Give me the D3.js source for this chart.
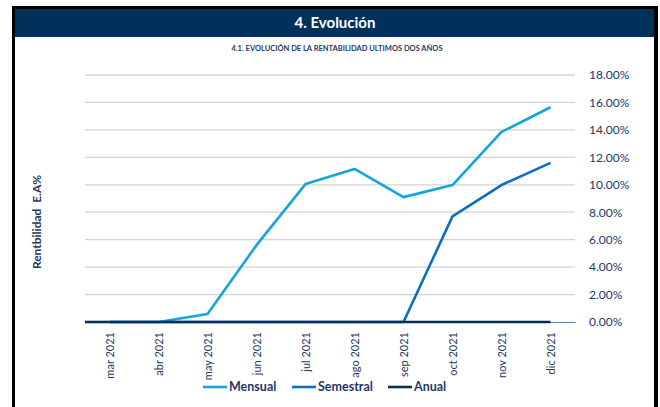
<!DOCTYPE html>
<html>
<head>
<meta charset="utf-8">
<script src="https://cdn.jsdelivr.net/npm/d3@7"></script>
<style>
  body { margin: 0; background: #fff; }
  svg { display: block; font-family: Lato, "Open Sans", sans-serif; }
</style>
</head>
<body>
<svg id="chart" width="660" height="407"></svg>
<script>
// months on the x axis
var meses = ["mar 2021","abr 2021","may 2021","jun 2021","jul 2021","ago 2021","sep 2021","oct 2021","nov 2021","dic 2021"]
// rentabilidad E.A. in %
var mensual = [0, 0, 0.58, 5.6, 10.05, 11.15, 9.1, 9.98, 13.85, 15.65]
var semestral = [0, 0, 0, 0, 0, 0, 0, 7.7, 9.98, 11.6]
var anual = [0, 0, 0, 0, 0, 0, 0, 0, 0, 0]
var yTicks = [0, 2, 4, 6, 8, 10, 12, 14, 16, 18]

var series = [
    {name: "Mensual", values: mensual, color: "#16a4de"},
    {name: "Semestral", values: semestral, color: "#0a6fc2"},
    {name: "Anual", values: anual, color: "#082f55"}
]

var navy = "#1f3864"
var svg = d3.select("#chart")

// frame + header
svg.append("rect").attr("x", 12).attr("y", 6).attr("width", 646).attr("height", 3).attr("fill", "#000")
svg.append("rect").attr("x", 12).attr("y", 6).attr("width", 3).attr("height", 401).attr("fill", "#000")
svg.append("rect").attr("x", 654).attr("y", 6).attr("width", 4).attr("height", 401).attr("fill", "#000")
svg.append("rect").attr("x", 15).attr("y", 9).attr("width", 639).attr("height", 28).attr("fill", "#00315a")
svg.append("text").attr("x", 335).attr("y", 28).attr("text-anchor", "middle")
    .attr("fill", "#fff").attr("font-weight", "bold").attr("font-size", 15)
    .text("4. Evolución")
svg.append("text").attr("x", 337).attr("y", 51).attr("text-anchor", "middle")
    .attr("fill", navy).attr("font-weight", "bold").attr("font-size", 7.5)
    .text("4.1. EVOLUCIÓN DE LA RENTABILIDAD ULTIMOS DOS AÑOS")

var plotLeft = 85, plotRight = 575, plotTop = 75, plotBottom = 322

var x = d3.scalePoint().domain(meses).range([plotLeft, plotRight]).padding(0.5)
var y = d3.scaleLinear().domain([0, 18]).range([plotBottom, plotTop])

// gridlines
svg.append("g").selectAll("line").data(yTicks.slice(1)).join("line")
    .attr("x1", plotLeft).attr("x2", plotRight)
    .attr("y1", d => y(d)).attr("y2", d => y(d))
    .attr("stroke", "#d4d4d4").attr("stroke-width", 1.3)

// right y axis labels
var yAxis = d3.axisRight(y).tickValues(yTicks).tickSize(0).tickPadding(0)
    .tickFormat(d => d3.format(".2f")(d) + "%")
var gy = svg.append("g").attr("transform", "translate(589,0)").call(yAxis)
gy.select(".domain").remove()
gy.selectAll("text").attr("fill", navy).attr("font-size", 12).attr("font-family", "Lato, sans-serif")

// x axis
var xAxis = d3.axisBottom(x).tickSize(0).tickPadding(0)
var gx = svg.append("g").attr("transform", "translate(0," + plotBottom + ")").call(xAxis)
gx.select(".domain").attr("stroke", "#5a7fa8").attr("stroke-width", 1)
gx.selectAll("text")
    .attr("transform", "rotate(-90)")
    .attr("text-anchor", "end")
    .attr("x", -10).attr("y", 0).attr("dy", "0.35em")
    .attr("fill", navy).attr("font-size", 11).attr("font-family", "Lato, sans-serif")

// axis title
svg.append("text").attr("transform", "translate(41,222) rotate(-90)")
    .attr("text-anchor", "middle").attr("fill", navy)
    .attr("font-weight", "bold").attr("font-size", 12)
    .attr("xml:space", "preserve")
    .text("Rentbilidad  E.A%")

var line = d3.line().x((d, i) => x(meses[i])).y(d => y(d))
svg.append("g").selectAll("path").data(series).join("path")
    .attr("d", d => line(d.values))
    .attr("fill", "none").attr("stroke", d => d.color)
    .attr("stroke-width", 2.6).attr("stroke-linejoin", "round")

// baseline navy from axis start
svg.append("line").attr("x1", plotLeft).attr("x2", x(meses[0]))
    .attr("y1", plotBottom).attr("y2", plotBottom).attr("stroke", "#082f55").attr("stroke-width", 2.6)

// legend
var legX = [203, 292, 388]
var leg = svg.append("g").selectAll("g").data(series).join("g")
    .attr("transform", (d, i) => "translate(" + legX[i] + ",387)")
leg.append("line").attr("x1", 0).attr("x2", 24).attr("stroke", d => d.color).attr("stroke-width", 2.6)
leg.append("text").attr("x", 26).attr("dy", "0.35em")
    .attr("fill", navy).attr("font-weight", "bold").attr("font-size", 12.5)
    .text(d => d.name)
</script>
</body>
</html>
